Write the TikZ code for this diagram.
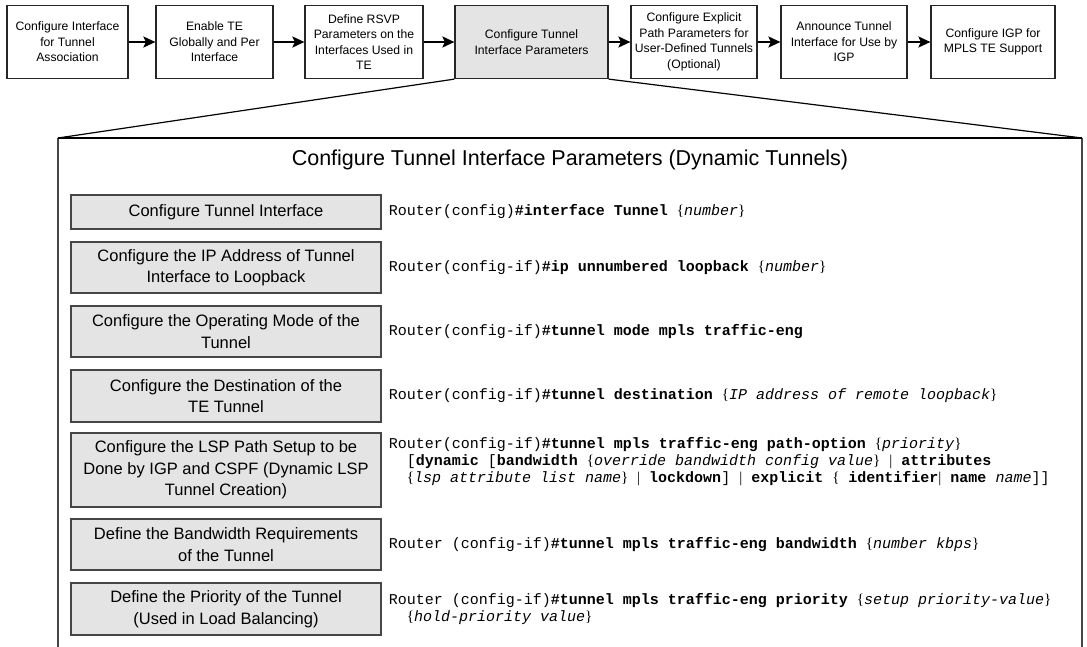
\documentclass[tikz,border=0pt]{standalone}
\usepackage{fontspec}
\setmainfont{Liberation Sans}
\setmonofont{Liberation Mono}
\newfontfamily\bracefont{Liberation Serif}
\usetikzlibrary{arrows.meta,positioning}

\definecolor{boxgray}{RGB}{228,228,228}
\definecolor{edgegray}{RGB}{70,70,70}

% command syntax helpers
\newcommand\cmdkw[1]{\textbf{#1}}
\newcommand\cmdvar[1]{\textit{#1}}
\newcommand\cmdopen{{\bracefont\{}}
\newcommand\cmdclose{{\bracefont\}}}
\newcommand\cmdbar{{\bracefont|}}

\begin{document}
\begin{tikzpicture}[x=1pt,y=-1pt,
  stepbox/.style={draw=black!85, line width=1.2pt, align=center, inner sep=0pt,
    minimum height=73pt, font=\fontsize{12.2}{15.6}\selectfont},
  current/.style={fill=boxgray},
  flow/.style={line width=2.2pt, -{Stealth[length=12pt,width=11pt,inset=2.5pt]}},
  taskbox/.style={draw=edgegray, fill=boxgray, line width=1.2pt, align=center,
    inner sep=0pt, minimum width=310pt, font=\fontsize{16.5}{21.5}\selectfont},
  cmd/.style={anchor=west, align=left, inner sep=0pt,
    font=\ttfamily\fontsize{15}{17}\selectfont},
  zoomline/.style={line width=1.2pt, black},
  frameside/.style={line width=1.4pt, edgegray}]
\useasboundingbox (0,0) rectangle (1087,646);

% process overview
\node[stepbox, minimum width=121pt] (s1) at (67.5,42) {Configure Interface\\for Tunnel\\Association};
\node[stepbox, minimum width=117pt] (s2) at (214.5,42) {Enable TE\\Globally and Per\\Interface};
\node[stepbox, minimum width=118pt] (s3) at (364,42) {Define RSVP\\Parameters on the\\Interfaces Used in\\TE};
\node[stepbox, current, minimum width=153pt] (s4) at (531.5,42) {Configure Tunnel\\Interface Parameters};
\node[stepbox, minimum width=126pt] (s5) at (694,42) {Configure Explicit\\Path Parameters for\\User-Defined Tunnels\\(Optional)};
\node[stepbox, minimum width=126pt] (s6) at (844,42) {Announce Tunnel\\Interface for Use by\\IGP};
\node[stepbox, minimum width=124pt] (s7) at (993,42) {Configure IGP for\\MPLS TE Support};

\draw[flow] (s1) -- (s2);
\draw[flow] (s2) -- (s3);
\draw[flow] (s3) -- (s4);
\draw[flow] (s4) -- (s5);
\draw[flow] (s5) -- (s6);
\draw[flow] (s6) -- (s7);

% detail frame
\coordinate (ftl) at (58,138);
\coordinate (ftr) at (1082,138);
\coordinate (fbl) at (58,650);
\coordinate (fbr) at (1082,650);
\draw[frameside] (fbl) -- (ftl);
\draw[frameside] (fbr) -- (ftr);
\draw[zoomline] (ftl) -- (ftr);
\draw[zoomline] (s4.south west) -- (ftl);
\draw[zoomline] (s4.south east) -- (ftr);

\node[font=\fontsize{21.5}{25}\selectfont] (title) at (570,160) {Configure Tunnel Interface Parameters (Dynamic Tunnels)};

% tasks
\node[taskbox, minimum height=34pt] (t1) at (226,212) {Configure Tunnel Interface};
\node[taskbox, minimum height=51pt] (t2) at (226,267.5) {Configure the IP Address of Tunnel\\Interface to Loopback};
\node[taskbox, minimum height=51pt] (t3) at (226,331.5) {Configure the Operating Mode of the\\Tunnel};
\node[taskbox, minimum height=52pt] (t4) at (226,396) {Configure the Destination of the\\TE Tunnel};
\node[taskbox, minimum height=74pt] (t5) at (226,470) {Configure the LSP Path Setup to be\\Done by IGP and CSPF (Dynamic LSP\\Tunnel Creation)};
\node[taskbox, minimum height=51pt] (t6) at (226,544.5) {Define the Bandwidth Requirements\\of the Tunnel};
\node[taskbox, minimum height=52pt] (t7) at (226,609) {Define the Priority of the Tunnel\\(Used in Load Balancing)};

% commands
\node[cmd, right=7pt of t1] (c1) {Router(config)\cmdkw{\#interface Tunnel} \cmdopen\cmdvar{number}\cmdclose};
\node[cmd, right=7pt of t2] (c2) {Router(config-if)\cmdkw{\#ip unnumbered loopback} \cmdopen\cmdvar{number}\cmdclose};
\node[cmd, right=7pt of t3] (c3) {Router(config-if)\cmdkw{\#tunnel mode mpls traffic-eng}};
\node[cmd, right=7pt of t4] (c4) {Router(config-if)\cmdkw{\#tunnel destination} \cmdopen\cmdvar{IP address of remote loopback}\cmdclose};
\node[cmd, right=7pt of t5, yshift=8pt] (c5) {Router(config-if)\cmdkw{\#tunnel mpls traffic-eng path-option} \cmdopen\cmdvar{priority}\cmdclose\\
\hspace*{1.2em}[\cmdkw{dynamic} [\cmdkw{bandwidth} \cmdopen\cmdvar{override bandwidth config value}\cmdclose{} \cmdbar{} \cmdkw{attributes}\\
\hspace*{1.2em}\cmdopen\cmdvar{lsp attribute list name}\cmdclose{} \cmdbar{} \cmdkw{lockdown}] \cmdbar{} \cmdkw{explicit} \cmdopen{} \cmdkw{identifier}\cmdbar{} \cmdkw{name} \cmdvar{name}]]};
\node[cmd, right=7pt of t6] (c6) {Router (config-if)\cmdkw{\#tunnel mpls traffic-eng bandwidth} \cmdopen\cmdvar{number kbps}\cmdclose};
\node[cmd, right=7pt of t7] (c7) {Router (config-if)\cmdkw{\#tunnel mpls traffic-eng priority} \cmdopen\cmdvar{setup priority-value}\cmdclose\\
\hspace*{1.2em}\cmdopen\cmdvar{hold-priority value}\cmdclose};
\end{tikzpicture}
\end{document}
